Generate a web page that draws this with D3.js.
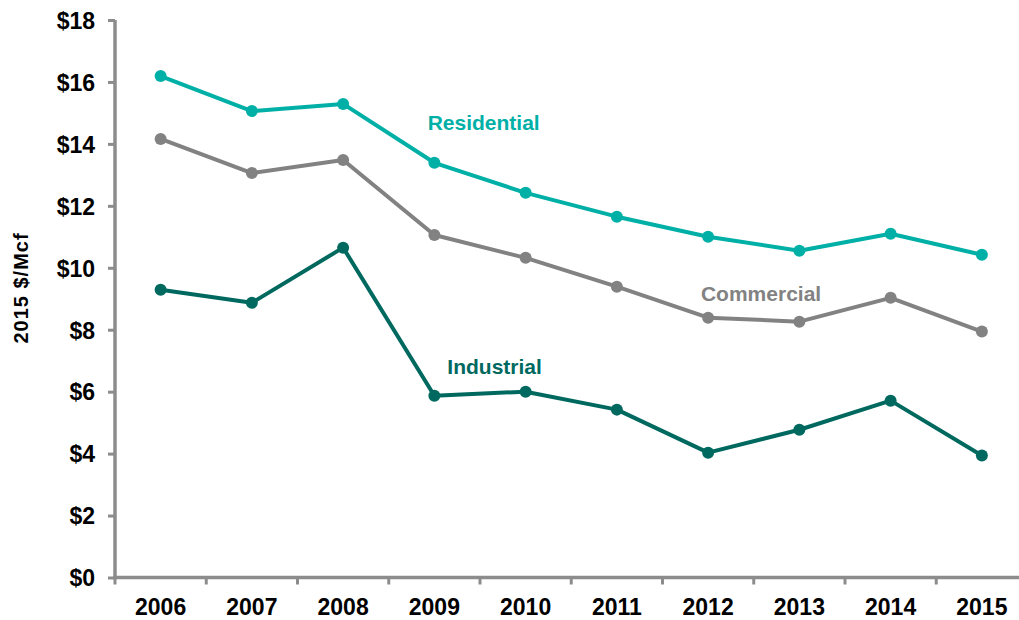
<!DOCTYPE html>
<html>
<head>
<meta charset="utf-8">
<script src="https://cdn.jsdelivr.net/npm/d3@7"></script>
<style>
  html, body { margin: 0; padding: 0; background: #fff; }
  svg { display: block; }
  text { font-family: "Liberation Sans", Arial, sans-serif; font-weight: bold; }
</style>
</head>
<body>
<svg id="chart" width="1019" height="620"></svg>
<script>
// Natural gas prices by sector, 2015 dollars per Mcf
const years = ["2006", "2007", "2008", "2009", "2010", "2011", "2012", "2013", "2014", "2015"];
const residential = [16.19, 15.06, 15.29, 13.39, 12.42, 11.65, 11.0, 10.55, 11.1, 10.42];
const commercial  = [14.16, 13.06, 13.48, 11.06, 10.32, 9.39, 8.39, 8.26, 9.03, 7.94];
const industrial  = [9.29, 8.87, 10.65, 5.87, 6.0, 5.42, 4.03, 4.77, 5.71, 3.94];
const yTicks = [0, 2, 4, 6, 8, 10, 12, 14, 16, 18];

// label anchor: [position along the year axis (index), value]
const series = [
  { name: "Residential", values: residential, color: "#00b0a7", label: [3.54, 14.68] },
  { name: "Commercial",  values: commercial,  color: "#828282", label: [6.58, 9.15] },
  { name: "Industrial",  values: industrial,  color: "#00695f", label: [3.66, 6.8] }
];

const svg = d3.select("#chart");
const axisColor = "#8c8c8c";

const x = d3.scaleBand().domain(years).range([115, 1027.5]);
const y = d3.scaleLinear().domain([0, 18]).range([577.5, 20]);
const cx = d => x(d) + x.bandwidth() / 2;
const xAt = i => cx(years[0]) + i * x.step();

// y axis
const yAxis = svg.append("g")
  .attr("transform", "translate(115,0)")
  .call(d3.axisLeft(y).tickValues(yTicks).tickSize(7).tickPadding(13)
    .tickFormat(d => "$" + d));
yAxis.select(".domain").attr("stroke", axisColor).attr("stroke-width", 3.5).attr("d", "M0,579V20");
yAxis.selectAll(".tick line").attr("stroke", axisColor).attr("stroke-width", 3);
yAxis.selectAll(".tick text").attr("fill", "#000").style("font-size", "23px")
  .attr("dy", "0.36em");

// x axis, ticks fall on band boundaries
const xAxis = svg.append("g").attr("transform", "translate(0,577.5)");
xAxis.append("line")
  .attr("x1", 113).attr("x2", 1027.5)
  .attr("stroke", axisColor).attr("stroke-width", 3.5);
xAxis.selectAll("line.tick").data(years).join("line")
  .attr("class", "tick")
  .attr("x1", d => x(d)).attr("x2", d => x(d))
  .attr("y1", 0).attr("y2", 7)
  .attr("stroke", axisColor).attr("stroke-width", 3);
xAxis.selectAll("text").data(years).join("text")
  .attr("x", d => cx(d)).attr("y", 37)
  .attr("text-anchor", "middle")
  .style("font-size", "23px")
  .attr("fill", "#000")
  .text(d => d);

// y axis title
svg.append("text")
  .attr("transform", "translate(28,288) rotate(-90)")
  .attr("text-anchor", "middle")
  .style("font-size", "20px")
  .style("letter-spacing", "1px")
  .attr("fill", "#000")
  .text("2015 $/Mcf");

// lines and markers
const line = d3.line().x((d, i) => cx(years[i])).y(d => y(d));

series.forEach(s => {
  const g = svg.append("g");
  g.append("path")
    .attr("d", line(s.values))
    .attr("fill", "none")
    .attr("stroke", s.color)
    .attr("stroke-width", 4)
    .attr("stroke-linejoin", "round");
  g.selectAll("circle").data(s.values).join("circle")
    .attr("cx", (d, i) => cx(years[i]))
    .attr("cy", d => y(d))
    .attr("r", 6)
    .attr("fill", s.color);
  g.append("text")
    .attr("x", xAt(s.label[0]))
    .attr("y", y(s.label[1]))
    .attr("text-anchor", "middle")
    .attr("dy", "0.35em")
    .style("font-size", "21px")
    .attr("fill", s.color)
    .text(s.name);
});
</script>
</body>
</html>
